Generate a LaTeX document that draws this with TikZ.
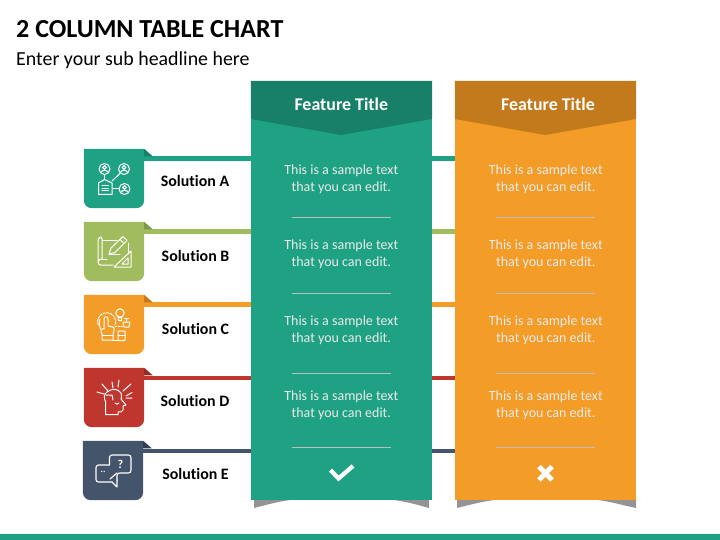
\documentclass[tikz,border=0pt]{standalone}
\usepackage{fontspec}
\setmainfont[Ligatures=NoCommon]{Carlito}
\definecolor{cgreen}{HTML}{1FA184}
\definecolor{cgreend}{HTML}{187F68}
\definecolor{corange}{HTML}{F39C27}
\definecolor{coranged}{HTML}{C27A1C}
\definecolor{clime}{HTML}{A0BC5E}
\definecolor{climed}{HTML}{7F9A45}
\definecolor{cred}{HTML}{BE362D}
\definecolor{credd}{HTML}{962A23}
\definecolor{cnavy}{HTML}{44546A}
\definecolor{cnavyd}{HTML}{333F50}
\tikzset{
  tilebox/.style={minimum width=60pt,minimum height=59pt,inner sep=0pt,draw=none},
  colbox/.style={minimum width=181pt,minimum height=419pt,inner sep=0pt,draw=none},
  sollabel/.style={font=\bfseries\fontsize{15.9}{18}\selectfont,text=black,inner sep=0pt},
  headlabel/.style={font=\bfseries\fontsize{17.9}{20}\selectfont,text=white,inner sep=0pt},
  bodylabel/.style={font=\fontsize{14}{16.8}\selectfont,text=white!92!black,align=center,inner sep=0pt},
  sepline/.style={draw=white!75!black,line width=0.6pt},
  ico/.style={draw=white,line width=1pt,fill=none,line join=round,line cap=round},
  shadowshape/.style={fill=black!42,draw=none}
}
\newcommand{\tileshape}[4]{%
  \fill[#2] (#1.north west) -- (#1.north east)
    [rounded corners=8pt] -- (#1.south east) -- (#1.south west)
    [sharp corners] -- cycle;
  \fill[#3] (#1.north east) -- ++(8.5,#4) -- ++(-8.5,0) -- cycle;
}
\begin{document}
\begin{tikzpicture}[x=1pt,y=-1pt]
\useasboundingbox (0,0) rectangle (720,540);
\fill[cgreen] (0,534) rectangle (720,540);

\node[font=\bfseries\fontsize{26}{30}\selectfont,anchor=west,inner sep=0pt] (title) at (16,29) {2 COLUMN TABLE CHART};
\node[font=\fontsize{19.9}{24}\selectfont,anchor=west,inner sep=0pt] (sub) at (16,60.5) {Enter your sub headline here};

% shadows
\fill[shadowshape] (254,500) -- (254,508) .. controls (266,505) and (276,502) .. (290,500) -- cycle;
\fill[shadowshape] (394,500) .. controls (408,502) and (418,505) .. (429,508) -- (429,500) -- cycle;
\fill[shadowshape] (457,500) -- (457,508) .. controls (469,505) and (480,502) .. (494,500) -- cycle;
\fill[shadowshape] (598,500) .. controls (612,502) and (622,505) .. (636,508) -- (636,500) -- cycle;

% anchors
\node[tilebox] (tA) at (114,178.5) {};
\node[tilebox] (tB) at (114,251.5) {};
\node[tilebox] (tC) at (114,324.5) {};
\node[tilebox] (tD) at (114,397.5) {};
\node[tilebox] (tE) at (113,470.5) {};
\node[colbox] (colG) at (341.5,290.5) {};
\node[colbox] (colO) at (545.5,290.5) {};

\coordinate (bA) at (144,158.4);
\coordinate (bB) at (144,231.6);
\coordinate (bC) at (144,304.7);
\coordinate (bD) at (144,377.9);
\coordinate (bE) at (143,451);

% connectors
\draw[cgreen,line width=4.6pt] (bA) -- (bA -| colG.west) (bA -| colG.east) -- (bA -| colO.west);
\draw[clime,line width=4.6pt] (bB) -- (bB -| colG.west) (bB -| colG.east) -- (bB -| colO.west);
\draw[corange,line width=4.6pt] (bC) -- (bC -| colG.west) (bC -| colG.east) -- (bC -| colO.west);
\draw[cred,line width=4.6pt] (bD) -- (bD -| colG.west) (bD -| colG.east) -- (bD -| colO.west);
\draw[cnavy,line width=4.6pt] (bE) -- (bE -| colG.west) (bE -| colG.east) -- (bE -| colO.west);

% tiles
\tileshape{tA}{cgreen}{cgreend}{7.5}
\tileshape{tB}{clime}{climed}{7.5}
\tileshape{tC}{corange}{coranged}{7.5}
\tileshape{tD}{cred}{credd}{7.5}
\tileshape{tE}{cnavy}{cnavyd}{7.5}

% columns
\fill[cgreen] (colG.north west) rectangle (colG.south east);
\fill[cgreend] (colG.north west) -- (colG.north east) -- (432,119) -- (341,135) -- (251,119) -- cycle;
\fill[corange] (colO.north west) rectangle (colO.south east);
\fill[coranged] (colO.north west) -- (colO.north east) -- (636,119) -- (545,135) -- (455,119) -- cycle;

\node[headlabel] (hG) at (341.3,104) {Feature Title};
\node[headlabel] (hO) at (548,104) {Feature Title};

% body texts
\node[bodylabel] (g1) at (341.3,179.2) {This is a sample text\\that you can edit.};
\node[bodylabel] (g2) at (341.3,254.2) {This is a sample text\\that you can edit.};
\node[bodylabel] (g3) at (341.3,330.2) {This is a sample text\\that you can edit.};
\node[bodylabel] (g4) at (341.3,405.2) {This is a sample text\\that you can edit.};
\node[bodylabel] (o1) at (545.8,179.2) {This is a sample text\\that you can edit.};
\node[bodylabel] (o2) at (545.8,254.2) {This is a sample text\\that you can edit.};
\node[bodylabel] (o3) at (545.8,330.2) {This is a sample text\\that you can edit.};
\node[bodylabel] (o4) at (545.8,405.2) {This is a sample text\\that you can edit.};

% separators
\foreach \yy in {217.5,293,373.5,447}{
  \draw[sepline] (292,\yy) -- (391,\yy);
  \draw[sepline] (496,\yy) -- (595,\yy);
}

% check and cross
\draw[white,line width=4.2pt] (330.5,470) -- (338.5,478.5) -- (353,466);
\draw[white,line width=5pt] (539,466.5) -- (552,480) (552,466.5) -- (539,480);

% solution labels
\node[sollabel] (sA) at (195,181) {Solution A};
\node[sollabel] (sB) at (195.5,256) {Solution B};
\node[sollabel] (sC) at (195.5,329) {Solution C};
\node[sollabel] (sD) at (195,401.2) {Solution D};
\node[sollabel] (sE) at (195.5,474.2) {Solution E};

% icon A
\begin{scope}[ico]
\draw (104.5,169) circle (5.5);
\draw (124,169) circle (5.5);
\draw (124.5,189) circle (5.5);
\draw (104.5,167.5) circle (1.9) (124,167.5) circle (1.9) (124.5,187.5) circle (1.9);
\draw (100.8,172.5) .. controls (102,169.6) and (107,169.6) .. (108.2,172.5);
\draw (120.3,172.5) .. controls (121.5,169.6) and (126.5,169.6) .. (127.7,172.5);
\draw (120.8,192.5) .. controls (122,189.6) and (127,189.6) .. (128.2,192.5);
\draw (104.5,174.5) -- (104.5,179);
\draw (112,181) -- (120,173.5);
\draw (113,189) -- (119,189);
\draw (98.5,183) -- (104.5,179.5) -- (112,183) -- (112,194.5) -- (98.5,194.5) -- cycle;
\draw (102,186) -- (108.5,186) (102,188.5) -- (108.5,188.5) (102,191) -- (108.5,191);
\end{scope}

% icon B
\begin{scope}[ico]
\draw (101,237) .. controls (98,237) and (98,240) .. (98,242) -- (98,262) .. controls (98,265) and (100,265) .. (101,265) -- (113,265);
\draw (101,237) .. controls (103,238) and (102,240) .. (102,242) -- (102,259) .. controls (100,259) and (98,260) .. (98,262);
\draw (102,240) -- (117,240);
\draw (102,259) -- (107,259);
\draw (128,243) -- (128,252);
\draw (109,254) -- (111,248) -- (123,236.5) -- (127,240.5) -- (115,252.5) -- cycle;
\draw (109,254) -- (120,254);
\draw (120,239.5) -- (124,243.5);
\draw (114,267) -- (131,251) -- (131,267) -- cycle;
\draw (122,264) -- (128,258) -- (128,264) -- cycle;
\end{scope}

% icon C
\begin{scope}[ico]
\draw (120,313) circle (4.2);
\draw (118.2,317.5) -- (121.8,317.5) -- (121.5,320.5) -- (118.5,320.5) -- cycle;
\draw[dash pattern=on 2.2pt off 1.2pt] (98.2,324.8) arc[start angle=160,end angle=380,radius=9];
\draw (100.5,329) .. controls (99.5,326) and (98.5,322) .. (100,319);
\draw (102,340) -- (102,334) .. controls (100,331) and (101,328) .. (104,329) -- (104,319) .. controls (104,316) and (108,316) .. (108,319) -- (108,326) -- (113,327) .. controls (115,328) and (114,332) .. (113,334) -- (113,340) -- cycle;
\draw (102,335) -- (113,335);
\draw (118,331) -- (118,340) .. controls (118,341) and (125,341) .. (125,340) -- (125,331) -- cycle;
\draw (118,335.5) -- (125,335.5);
\draw (123,322) -- (130,322) -- (129,327) -- (124,327) -- cycle;
\draw (126.5,322) -- (126.5,319) (124.5,318.5) -- (128.5,318.5);
\draw[dash pattern=on 1.5pt off 1.5pt] (115,326) -- (123,326);
\draw (113,340) -- (118,340);
\end{scope}

% icon D
\begin{scope}[ico]
\draw (105.7,414.7) -- (105.7,402) .. controls (103.5,398) and (104,394) .. (107,392) .. controls (111,388.5) and (118,388) .. (121,393) .. controls (122,396) and (121.5,398) .. (121,399) -- (126,405) -- (123,406) -- (123,410) .. controls (123,412) and (120,412) .. (118,412) -- (118,414.7) -- cycle;
\draw (106,395) -- (112,395) -- (113,400);
\draw (115,403) .. controls (116,404.5) and (118,404.5) .. (119,403);
\draw (113,388) -- (112,382) (118,387) -- (119,380) (123,391) -- (131,384) (108,391) -- (102,384) (126,396) -- (132,392.5) (97,392) -- (104,394) (126,398) -- (132,398);
\end{scope}

% icon E
\begin{scope}[ico,line width=1.1pt]
\draw[rounded corners=2.5pt] (109.5,465) -- (109.5,455) -- (131,455) -- (131,473) -- (117,473) -- (117,480);
\draw (117,473) -- (110,479);
\draw[rounded corners=2.5pt] (109,465) -- (96,465) -- (96,482) -- (112,482);
\draw (112,482) -- (117,487) -- (117,480);
\end{scope}
\node[font=\bfseries\fontsize{12}{12}\selectfont,text=white,inner sep=0pt] (q) at (120.5,464) {?};
\node[font=\bfseries\fontsize{9}{10}\selectfont,text=white,inner sep=0pt] (dd) at (103,472) {..};
\end{tikzpicture}
\end{document}
